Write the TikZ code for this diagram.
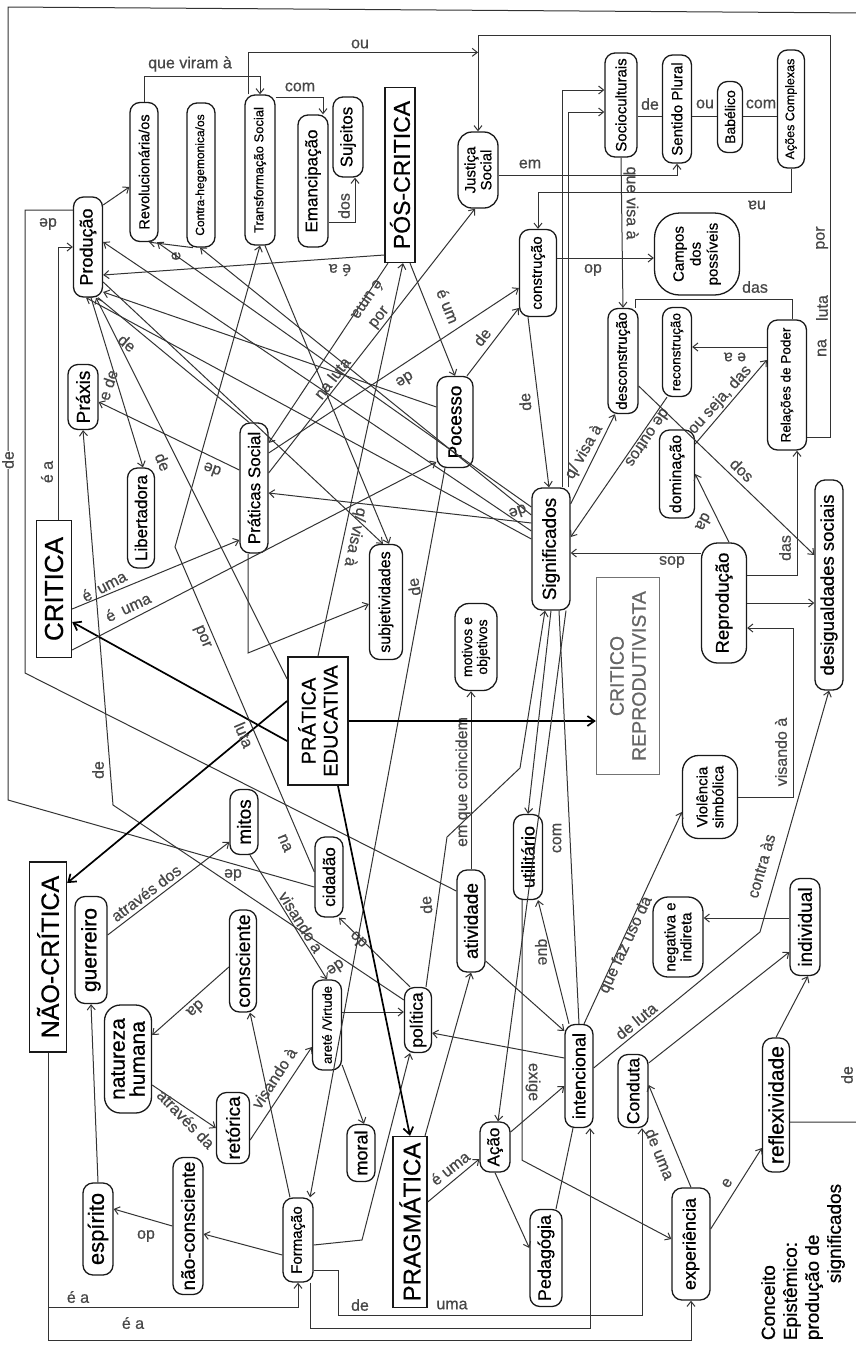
\documentclass[tikz,border=0pt]{standalone}
\usepackage{fontspec}
\setmainfont{Liberation Sans}[RawFeature={embolden=0.6}]
\usetikzlibrary{arrows.meta,calc}
\newcommand{\fsz}[1]{\fontsize{#1}{#1}\selectfont}
\newcommand{\fszb}[2]{\fontsize{#1}{#2}\selectfont}
\begin{document}
\begin{tikzpicture}[x=1pt,y=-1pt,
  cn/.style={draw=black!90, line width=1.3pt, rounded corners=10pt, rotate=90, inner sep=2pt, align=center, fill=white},
  rn/.style={draw=black!90, line width=1.3pt, rotate=90, inner sep=2pt, align=center, fill=white},
  ln/.style={draw=black!80, line width=1pt},
  ar/.style={ln, -{Straight Barb[length=5pt,width=8pt]}},
  bar/.style={draw=black, line width=1.7pt, -{Straight Barb[length=7pt,width=10pt]}},
  lb/.style={font=\fsz{16}, text=black!72, inner sep=0.5pt}]
\useasboundingbox (0,0) rectangle (855,1345);
\fill[white] (0,0) rectangle (855,1345);

\node[cn,minimum width=100pt,minimum height=29pt,font=\fsz{18}] (prod) at (88,247) {Produção};
\node[cn,minimum width=139pt,minimum height=28pt,font=\fsz{14.5}] (rev) at (144,172) {Revolucionária/os};
\node[cn,minimum width=144pt,minimum height=28pt,font=\fsz{12}] (contra) at (201,175) {Contra-hegemonica/os};
\node[cn,minimum width=150pt,minimum height=30pt,font=\fsz{13}] (trans) at (260,170) {Transformação Social};
\node[cn,minimum width=132pt,minimum height=30pt,font=\fsz{17}] (eman) at (313,181) {Emancipação};
\node[cn,minimum width=80pt,minimum height=30pt,font=\fsz{17}] (suj) at (348,137) {Sujeitos};
\node[rn,minimum width=175pt,minimum height=30pt,font=\fsz{23}] (pos) at (400,175) {PÓS-CRITICA};
\node[cn,minimum width=76pt,minimum height=40pt,font=\fszb{15}{16},rounded corners=14pt] (just) at (478,170) {Justiça\\Social};
\node[cn,minimum width=87pt,minimum height=37pt,font=\fsz{15}] (constr) at (538,273) {construção};
\node[cn,minimum width=91pt,minimum height=36pt,font=\fsz{19}] (poc) at (455,422) {Pocesso};
\node[cn,minimum width=104pt,minimum height=32pt,font=\fsz{15}] (socio) at (621,105) {Socioculturais};
\node[cn,minimum width=108pt,minimum height=29pt,font=\fsz{15}] (sent) at (677,109) {Sentido Plural};
\node[cn,minimum width=71pt,minimum height=25pt,font=\fsz{14}] (bab) at (730,117) {Babélico};
\node[cn,minimum width=118pt,minimum height=27pt,font=\fsz{12.5}] (acoes) at (791,109) {Ações Complexas};
\node[cn,minimum width=82pt,minimum height=85pt,font=\fszb{15}{17},rounded corners=25pt] (campos) at (697,254) {Campos\\dos\\possíveis};
\node[cn,minimum width=105pt,minimum height=30pt,font=\fsz{15}] (descon) at (623,361) {desconstrução};
\node[cn,minimum width=89pt,minimum height=29pt,font=\fsz{13.5}] (recon) at (677,352) {reconstrução};
\node[cn,minimum width=130pt,minimum height=39pt,font=\fsz{13.5}] (rel) at (787,385) {Relações de Poder};
\node[rn,minimum width=137pt,minimum height=35pt,font=\fsz{26}] (crit) at (54,589) {CRITICA};
\node[cn,minimum width=100pt,minimum height=27pt,font=\fsz{17}] (liber) at (141,518) {Libertadora};
\node[cn,minimum width=130pt,minimum height=28pt,font=\fsz{17}] (prat) at (254,488) {Práticas Social};
\node[cn,minimum width=65pt,minimum height=30pt,font=\fsz{19}] (praxis) at (83,397) {Práxis};
\node[cn,minimum width=65pt,minimum height=28pt,font=\fsz{19}] (mitos) at (244,822) {mitos};
\node[cn,minimum width=115pt,minimum height=33pt,font=\fsz{16}] (subj) at (386,602) {subjetividades};
\node[cn,minimum width=122pt,minimum height=38pt,font=\fsz{19}] (sig) at (551,549) {Significados};
\node[rn,line width=1.8pt,minimum width=128pt,minimum height=60pt,font=\fszb{20}{22}] (pe) at (318,721) {PRÁTICA\\EDUCATIVA};
\node[cn,minimum width=87pt,minimum height=42pt,font=\fszb{14}{15},rounded corners=14pt] (motiv) at (476,647) {motivos e\\objetivos};
\node[cn,minimum width=85pt,minimum height=29pt,font=\fsz{18}] (util) at (528,857) {utilitário};
\node[cn,minimum width=102pt,minimum height=28pt,font=\fsz{19}] (ativ) at (471,921) {atividade};
\node[cn,minimum width=80pt,minimum height=28pt,font=\fsz{17}] (cid) at (329,877) {cidadão};
\node[rn,draw=black!55,text=black!60,minimum width=197pt,minimum height=63pt,font=\fszb{19.5}{22}] (cr) at (628,676) {CRITICO\\REPRODUTIVISTA};
\node[cn,minimum width=120pt,minimum height=45pt,font=\fsz{18.5},rounded corners=16pt] (repro) at (724,603) {Reprodução};
\node[cn,minimum width=210pt,minimum height=28pt,font=\fsz{18.5}] (desig) at (829,585) {desigualdades sociais};
\node[cn,minimum width=88pt,minimum height=35pt,font=\fsz{16}] (domin) at (677,474) {dominação};
\node[cn,minimum width=83pt,minimum height=55pt,font=\fszb{15}{16},rounded corners=16pt] (viol) at (710,797) {Violência\\simbólica};
\node[rn,minimum width=190pt,minimum height=37pt,font=\fsz{25}] (nao) at (48,957) {NÃO-CRÍTICA};
\node[cn,minimum width=107pt,minimum height=32pt,font=\fsz{21}] (guer) at (91,950) {guerreiro};
\node[cn,minimum width=108pt,minimum height=47pt,font=\fszb{21}{20},rounded corners=16pt] (nat) at (128,1059) {natureza\\humana};
\node[cn,minimum width=102pt,minimum height=27pt,font=\fsz{19.5}] (consc) at (243,961) {consciente};
\node[cn,minimum width=71pt,minimum height=33pt,font=\fsz{19}] (ret) at (233,1128) {retórica};
\node[cn,minimum width=92pt,minimum height=30pt,font=\fsz{22}] (esp) at (98,1229) {espírito};
\node[cn,minimum width=137pt,minimum height=30pt,font=\fsz{19}] (naoc) at (188,1226) {não-consciente};
\node[cn,minimum width=90pt,minimum height=29pt,font=\fsz{13}] (arete) at (327,1025) {areté /Virtude};
\node[cn,minimum width=65pt,minimum height=27pt,font=\fsz{17.5}] (pol) at (418,1020) {política};
\node[cn,minimum width=57pt,minimum height=28pt,font=\fsz{18}] (moral) at (361,1153) {moral};
\node[rn,minimum width=171pt,minimum height=34pt,font=\fsz{24}] (prag) at (410,1222) {PRAGMÁTICA};
\node[cn,minimum width=84pt,minimum height=30pt,font=\fsz{15}] (form) at (298,1240) {Formação};
\node[cn,minimum width=50pt,minimum height=30pt,font=\fsz{17}] (acao) at (495,1147) {Ação};
\node[cn,minimum width=97pt,minimum height=32pt,font=\fsz{18}] (ped) at (546,1258) {Pedagógia};
\node[cn,minimum width=103pt,minimum height=28pt,font=\fsz{18}] (inten) at (579,1076) {intencional};
\node[cn,minimum width=80pt,minimum height=50pt,font=\fszb{15}{16},rounded corners=15pt] (neg) at (678,937) {negativa e\\indireta};
\node[cn,minimum width=97pt,minimum height=30pt,font=\fsz{19}] (indiv) at (805,927) {individual};
\node[cn,minimum width=73pt,minimum height=30pt,font=\fsz{17.5}] (cond) at (633,1091) {Conduta};
\node[cn,minimum width=134pt,minimum height=27pt,font=\fsz{21}] (refl) at (776,1105) {reflexividade};
\node[cn,minimum width=112pt,minimum height=38pt,font=\fsz{18}] (exp) at (691,1244) {experiência};
\node[rotate=90,align=left,font=\fszb{19}{22},inner sep=0pt] (conc) at (803,1262) {Conceito\\Epistêmico:\\produção de\\\hspace*{3em}significados};

% ---------- top region ----------
\draw[ar] ([yshift=42pt]prod.south) -- ([yshift=-15pt]rev.north);
\draw[ar] (rev.east) -- ++(0,-25) -| (trans.east);
\node[lb] (l1) at (190,64) {que viram à};
\draw[ar] ([xshift=-12pt]trans.east) |- ([yshift=79pt]just.east);
\node[lb] (l2) at (360,44) {ou};
\draw[ar] ([yshift=73pt]trans.south) -| ([xshift=10pt]eman.east);
\node[lb] (l3) at (300,87) {com};
\draw[ar] ([yshift=-41pt]eman.south) -| ([xshift=7pt]suj.west);
\node[lb,rotate=90] (l4) at (344,206) {dos};
\draw[ar] ([xshift=-8pt]contra.west) -- ([xshift=5pt]rev.west);
\node[lb,rotate=90] (l5) at (176,256) {e};
\draw[ar] ([yshift=42pt]sig.north) -- ([xshift=13pt]rev.west);
\draw[ar] ([yshift=34pt]sig.north) -- ([xshift=-1pt]contra.west);
\draw[ar] ([yshift=-80pt]pos.north) -- ([yshift=-28pt]prod.south);
\node[lb,rotate=180] (l6) at (340,270) {é a};
\draw[ar] ([xshift=10pt]pos.west) -- (poc.east);
\node[lb,rotate=-68] (l7) at (448,306) {é um};
\draw[ar] ([xshift=-12pt]pos.west) -- ([yshift=45pt]prat.south);
\node[lb,rotate=-124] (l8) at (368,300) {é uma};
\draw[ar] ([yshift=15pt]prat.south) -- ([xshift=-3pt]just.west);
\node[lb,rotate=52] (l9) at (332,378) {na luta};
\node[lb,rotate=52] (l10) at (380,318) {por};
\draw[ar] ([xshift=4pt]crit.east) |- (prod.north);
\node[lb,rotate=90] (l11) at (47,472) {é a};
\draw[ln] ([yshift=30pt]ativ.north) -- (25,673) -- (25,210) -- ([yshift=37pt]prod.north);
\node[lb,rotate=180] (l12) at (48,224) {de};

% frame connector
\draw[ln] ([yshift=-17pt]refl.south) -- (866,1122) -- (866,13) -- (8,7) -- (8,800) -- ([yshift=-10pt]cid.north);
\node[lb,rotate=90] (l13) at (847,1075) {de};
\node[lb,rotate=90,fill=white] (l14) at (8,460) {de};
\node[lb,rotate=180] (l15) at (233,875) {de};

% Práxis / política
\draw[ar] ([yshift=20pt]pol.north) -- (113,805) -- (praxis.west);
\node[lb,rotate=90] (l16) at (98,770) {de};
\node[lb,rotate=214] (l17) at (336,968) {de};
\draw[ar] ([xshift=-8pt]pol.east) -- ([xshift=10pt]cid.west);
\node[lb,rotate=135] (l18) at (358,940) {do};
\draw[ar] ([xshift=-10pt]poc.west) -- ([xshift=12pt]form.east);
\node[lb,rotate=100] (l19) at (414,587) {de};
\draw[ar] ([xshift=8pt]pol.east) -- (447,837) -- (520,768) -- ([xshift=-6pt]sig.west);
\node[lb,rotate=95] (l20) at (426,905) {de};
\draw[ar] (ativ.east) -- (ativ.east |- motiv.west);
\node[lb,rotate=90] (l21) at (463,782) {em que coincidem};
\draw[ar] ([yshift=-40pt]ativ.south) -- ([yshift=45pt]inten.north);
\draw[ar] ([yshift=18pt]inten.north) -- ([yshift=-13pt]pol.south);
\draw[ar] ([yshift=15pt]acao.south) -- ([yshift=-10pt]inten.north);
\draw[ar] ([yshift=20pt]prag.south) -- ([yshift=-12pt]acao.north);
\node[lb,rotate=38] (l22) at (450,1168) {é uma};
\draw[ar] (acao.west) -- ([yshift=10pt]ped.north);
\draw[ln] ([xshift=10pt]ped.east) -- ([xshift=-6pt]inten.west);
\draw[ar] ([yshift=-5pt]form.south) -- (362,1240) -- ([xshift=-8pt]pol.west);
\draw[ar] ([xshift=-8pt]form.east) -- ([xshift=7pt]consc.west);
\draw[ar] ([yshift=-15pt]form.north) -- ([yshift=-8pt]naoc.south);
\draw[ar] (naoc.north) -- ([yshift=20pt]esp.south);
\node[lb,rotate=180] (l23) at (146,1236) {do};
\draw[ar] (esp.east) -- (guer.west);
\draw[ar] ([yshift=15pt]guer.south) -- ([yshift=-20pt]mitos.north);
\node[lb,rotate=37] (l24) at (146,893) {através dos};
\draw[ar] ([yshift=-6pt]consc.north) -- ([yshift=24pt]nat.south);
\node[lb,rotate=221] (l25) at (196,1009) {da};
\draw[ar] ([yshift=-26pt]nat.south) -- (ret.north);
\node[lb,rotate=-46] (l26) at (186,1119) {através da};
\draw[ar] ([yshift=-12pt]ret.south) -- ([yshift=-22pt]arete.north);
\node[lb,rotate=57] (l27) at (274,1078) {visando à};
\draw[ar] ([xshift=6pt]mitos.west) -- (arete.east);
\node[lb,rotate=-58] (l28) at (301,922) {visando a};
\draw[ar] ([yshift=13pt]arete.south) -- ([yshift=8pt]pol.north);
\draw[ar] ([yshift=-40pt]arete.south) -- ([xshift=3pt]moral.east);

% PRÁTICA EDUCATIVA
\draw[bar] ([yshift=-20pt]pe.north) -- ([yshift=-33pt]crit.south);
\draw[bar] ([yshift=20pt]pe.north) -- ([yshift=74pt]nao.south);
\draw[bar] (pe.south) -- (pe.south -| cr.north);
\draw[bar] ([xshift=20pt]pe.west) -- (prag.east);
\draw[ar] (pe.east) -- ([xshift=3pt]pos.west);
\node[lb,rotate=-102] (l29) at (355,537) {q/ visa à};
\draw[ar] ([yshift=42pt]pe.north) -- ([xshift=8pt]prod.west);
\node[lb,rotate=-68] (l74) at (163,462) {de};

% CRITICA
\draw[ar] ([yshift=-20pt]crit.south) -- ([yshift=-52pt]prat.north);
\node[lb,rotate=28] (l30) at (104,586) {é\enspace uma};
\draw[ar] ([yshift=-61pt]crit.south) -- ([yshift=-40pt]poc.north);
\node[lb,rotate=25] (l31) at (128,607) {é\enspace uma};
\draw[ar] ([yshift=18pt]prat.north) -- ([yshift=-5pt]praxis.south);
\node[lb,rotate=160] (l32) at (212,470) {de};
\draw[ar] ([xshift=3pt]prod.west) -- ([xshift=2pt]liber.east);
\node[lb,rotate=72] (l33) at (108,385) {e de};
\draw[ln] ([xshift=10pt]prod.west) -- ([xshift=-5pt]prat.east);
\node[lb,rotate=-40] (l34) at (127,343) {de};
\draw[ar] ([yshift=35pt]prat.south) -- ([yshift=-15pt]constr.north);
\node[lb,rotate=213] (l35) at (405,380) {de};
\draw[ar] ([xshift=12pt]poc.east) -- ([yshift=-35pt]constr.north);
\node[lb,rotate=52] (l36) at (482,337) {de};
\draw[ar] ([xshift=-10pt]constr.west) -- ([xshift=-2pt]sig.east);
\node[lb,rotate=95] (l37) at (525,402) {de};
\draw[ar] ([yshift=15pt]constr.south) -- ([yshift=-4pt]campos.north);
\node[lb,rotate=180] (l38) at (593,270) {do};
\draw[ar] ([yshift=-5pt]just.south) -| (sent.west);
\node[lb] (l39) at (530,164) {em};
\draw[ar] (acoes.west) -- ++(0,24) -| (constr.east);
\node[lb,rotate=180] (l40) at (757,205) {na};
\draw[ln] ([yshift=-11pt]socio.south) -- ([yshift=-7pt]sent.north);
\draw[ln] ([yshift=-7pt]sent.south) -- ([yshift=1pt]bab.north);
\draw[ln] ([yshift=1pt]bab.south) -- ([yshift=-7pt]acoes.north);
\node[lb] (l41) at (650,104) {de};
\node[lb] (l42) at (705,104) {ou};
\node[lb] (l43) at (761,104) {com};
\draw[ar] (socio.west) -- (descon.east);
\node[lb,rotate=-90] (l44) at (631,203) {que visa à};
\draw[ar] ([xshift=11pt]sig.east) |- ([yshift=15pt]socio.north);
\draw[ar] ([xshift=17pt]sig.east) |- ([yshift=-7pt]socio.north);
\draw[ln] ([xshift=5pt]rel.east) -- ++(0,-20) -| ([xshift=12pt]descon.east);
\node[lb] (l45) at (755,287) {das};
\draw[ar] ([yshift=38pt]rel.north) -- ([yshift=5pt]recon.south);
\node[lb,rotate=180] (l46) at (735,357) {e a};
\draw[ar] ([yshift=-52pt]rel.south) -- (830,437) -- (830,35) -- (478,35) -- (just.east);
\node[lb,rotate=90] (l47) at (822,348) {na};
\node[lb,rotate=90] (l48) at (822,308) {luta};
\node[lb,rotate=90] (l49) at (822,238) {por};
\draw[ar] ([yshift=45pt]sig.south) -- ([xshift=-8pt]descon.west);
\node[lb,rotate=60] (l50) at (584,452) {q/ visa à};
\draw[ar] ([xshift=-10pt]recon.west) -- ([yshift=12pt]sig.south);
\node[lb,rotate=236] (l51) at (648,438) {de outros};
\draw[ar] ([yshift=-25pt]descon.south) -- ([yshift=30pt]desig.north);
\node[lb,rotate=-44] (l52) at (742,470) {dos};
\draw[ar] ([yshift=30pt]domin.south) -- ([yshift=25pt]rel.north);
\node[lb,rotate=48] (l53) at (720,400) {ou seja, das};
\draw[ar] ([xshift=5pt]repro.east) -- (domin.south);
\node[lb,rotate=242] (l54) at (704,522) {da};
\draw[ar] ([yshift=50pt]repro.north) -- ([yshift=-4pt]sig.south);
\node[lb,rotate=180] (l55) at (672,562) {dos};
\draw[ar] ([yshift=28pt]repro.south) -| ([xshift=10pt]rel.west);
\node[lb,rotate=90] (l56) at (785,548) {das};
\draw[ar] (repro.south) -- (repro.south -| desig.north);
\draw[ar] (viol.south) -- ++(55,0) |- ([yshift=-25pt]repro.south);
\node[lb,rotate=90] (l57) at (781,752) {visando à};
\draw[ar] ([xshift=5pt]inten.east) -- ([yshift=-15pt]viol.north);
\node[lb,rotate=65] (l58) at (626,945) {que faz uso da};
\draw[ar] ([yshift=8pt]inten.south) -- (760,932) -- (desig.west);
\node[lb,rotate=39] (l59) at (636,1021) {de luta};
\node[lb,rotate=74] (l60) at (761,866) {contra às};
\draw[ar] ([yshift=28pt]cond.south) -- ([yshift=-25pt]indiv.north);
\draw[ar] ([yshift=9pt]indiv.north) -- ([yshift=19pt]neg.south);
\draw[ar] (refl.east) -- ([xshift=3pt]indiv.west);
\draw[ar] ([yshift=15pt]exp.south) -- ([yshift=-43pt]refl.north);
\node[lb,rotate=57] (l61) at (727,1183) {e};
\draw[ar] (exp.east) -- ([yshift=6pt]cond.south);
\node[lb,rotate=-68] (l62) at (660,1154) {de uma};
\draw[ar] ([xshift=-6pt]util.west) -- ++(0,260) -- ([yshift=5pt]exp.north);
\node[lb,rotate=-90] (l63) at (533,1082) {exige};
\draw[ar] ([xshift=-10pt]inten.east) -- ([xshift=10pt]util.west);
\node[lb,rotate=-90] (l64) at (541,952) {que};
\draw[ar] (sig.west) -- (util.east);
\draw[ln] ([xshift=8pt]sig.west) -- (inten.east);
\node[lb,rotate=90] (l65) at (557,838) {com};
\draw[ar] ([xshift=15pt]sig.west) -- ([xshift=3pt]acao.east);

% dense web
\draw[ar] ([yshift=15pt]poc.north) -- ([yshift=-45pt]prod.south);
\draw[ar] ([yshift=18pt]sig.north) -- ([yshift=5pt]prod.south);
\draw[ar] ([yshift=10pt]sig.north) -- ([xshift=-2pt]prod.west);
\draw[ar] ([yshift=26pt]sig.north) -- ([yshift=-5pt]prat.south);
\node[lb,rotate=200] (l66) at (518,512) {de};
\draw[ar] ([yshift=-35pt]prod.south) -- ([xshift=-3pt]subj.east);
\draw[ar] ([xshift=5pt]trans.west) -- ([xshift=3pt]subj.east);
\draw[ar] ([yshift=5pt]cid.north) -- (175,547) -- (trans.west);
\node[lb,rotate=-67] (l67) at (285,843) {na};
\node[lb,rotate=-67] (l68) at (244,735) {luta};
\node[lb,rotate=-67] (l69) at (202,637) {por};
\draw[ar] ([xshift=-6pt]prat.west) -- (248,653) -- ([yshift=-2pt]subj.north);

% NÃO-CRÍTICA and bottom
\draw[ar] (nao.west) |- ([yshift=-25pt]form.west) -- (form.west);
\node[lb] (l70) at (78,1297) {é a};
\draw[ar] (nao.west) |- ([yshift=-40pt]exp.west) -- (exp.west);
\node[lb] (l71) at (133,1323) {é a};
\draw[ar] ([yshift=-30pt]form.south) -- ++(25,0) |- ([xshift=9pt,yshift=-187pt]cond.west) -- ([xshift=9pt]cond.west);
\node[lb] (l72) at (360,1305) {de};
\node[lb] (l73) at (452,1305) {uma};
\draw[ar] ([xshift=12pt]form.west) |- ([xshift=11pt,yshift=-200pt]inten.west) -- ([xshift=11pt]inten.west);
\draw[ar] ([xshift=15pt]prag.east) -- (ativ.west);
\end{tikzpicture}
\end{document}
